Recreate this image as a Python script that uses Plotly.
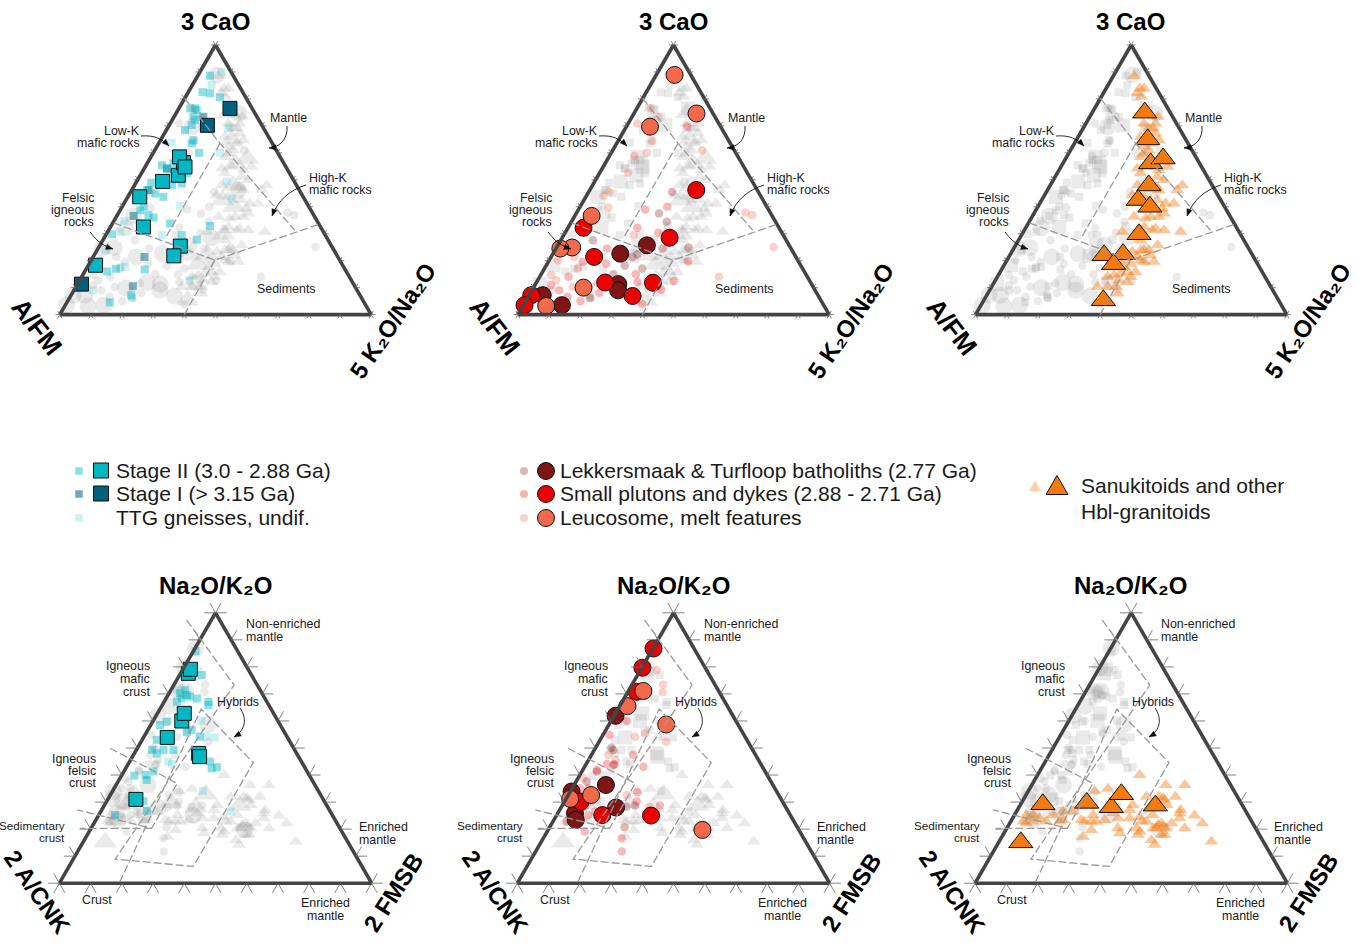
import plotly.graph_objects as go

W, H = 1359, 943

# ---------- CaO diagram (a = 3 CaO %, c = 5 K2O/Na2O %, b = remainder A/FM) ----------
A_SQ_II_BIG_a = [43.7,32.5,49.4,51.7,56.4,58.5,54.8,25.4,21.8,18.3]
A_SQ_II_BIG_c = [3.8,10.6,8.3,12.2,11.5,9.2,12.8,26.0,25.7,2.3]
A_SQ_I_BIG_a = [76.5,70.2,11.3]
A_SQ_I_BIG_c = [16.4,12.3,1.3]
A_SQ_II_a = [88.6,82.5,82.1,80.6,76.5,76.5,75.9,73.4,72.2,70.3,68.4,64.7,63.5,60.0,57.3,55.4,54.2,56.1,52.4,48.6,48.0,48.9,46.2,44.9,43.7,40.0,36.9,36.0,33.8,32.9,29.5,27.8,29.8,17.0,16.0,16.7,7.2,4.5,38.7]
A_SQ_II_c = [3.9,4.6,7.2,11.1,5.2,3.6,6.0,6.2,7.3,7.2,6.0,10.5,10.6,14.7,9.0,5.1,7.3,8.4,14.6,14.9,12.0,4.9,4.9,8.2,11.4,6.9,10.0,12.1,18.5,31.8,24.4,30.1,1.9,9.5,7.2,18.9,19.3,13.8,6.5]
A_SQ_I_a = [73.4,36.6,21.4,10.5,46.2,54.2]
A_SQ_I_c = [9.4,5.4,16.5,18.2,5.4,7.3]
A_SQ_U_a = [89.9,85.1,69.1,63.7,60.0,49.3,43.1,40.3,34.8,30.7,29.5,23.9,17.7,17.5,12.7,9.0,6.3]
A_SQ_U_c = [7.0,6.2,19.5,4.1,21.4,28.9,33.8,18.5,3.3,4.1,18.0,2.7,12.2,10.7,35.2,6.2,20.0]

A_CI_L_BIG_a = [7.2,3.5,22.6,25.7,11.3,9.0]
A_CI_L_BIG_c = [4.4,12.4,21.6,28.6,26.6,27.7]
A_CI_S_BIG_a = [7.2,3.5,32.2,21.4,11.9,6.9,11.8,28.5,46.2]
A_CI_S_BIG_c = [0.7,0.4,5.0,13.8,22.1,33.4,37.5,34.5,34.2]
A_CI_M_BIG_a = [88.9,74.6,69.7,36.6,24.9,24.5,3.2,10.0]
A_CI_M_BIG_c = [5.9,20.1,7.6,5.4,5.0,1.4,7.5,16.1]
A_CI_L_a = [45.5,37.5,34.4,27.6,22.4,18.1,17.1,24.9,24.5,6.2,15.0,21.4]
A_CI_L_c = [26.8,26.6,30.6,10.3,27.2,25.3,31.4,42.3,34.2,20.2,23.2,26.1]
A_CI_S_a = [69.9,39.0,32.2,40.0,30.4,24.5,18.9,19.6,14.0,10.9,9.0,6.6,5.0,8.0,15.0,12.1,3.8,9.3,12.5,19.8]
A_CI_S_c = [19.5,21.4,22.3,28.0,29.9,16.4,18.9,11.0,9.3,5.2,8.8,12.7,17.6,22.1,30.4,32.4,38.1,41.4,43.9,44.8]
A_CI_M_a = [76.5,73.4,70.9,64.4,58.8,60.0,52.6,61.0,45.5,44.1,39.7,37.9,36.9,25.1,14.0,29.5,21.4,20.2,17.1,14.6,12.7,10.3,11.5]
A_CI_M_c = [4.4,8.4,2.9,11.0,8.0,11.4,9.1,28.7,6.6,5.5,9.2,54.2,56.8,69.6,57.6,22.4,7.4,2.7,10.7,3.4,6.0,12.5,19.9]

A_TR_BIG_a = [74.9,65.0,56.1,57.9,47.9,42.5,40.0,29.8,22.0,22.4,18.7,5.3]
A_TR_BIG_c = [16.9,22.8,28.2,31.3,31.7,31.0,36.0,37.6,30.3,36.2,35.0,38.4]
A_TR_a = [88.5,83.9,83.9,82.1,80.8,73.4,70.9,69.1,69.1,70.9,62.3,63.5,64.7,54.2,58.5,59.8,54.8,53.6,54.8,49.9,48.0,51.1,46.2,48.0,44.3,46.2,41.2,41.2,42.5,37.5,36.3,36.3,32.5,31.9,31.3,30.7,30.7,23.9,23.9,25.7,21.4,19.6,19.6,18.9,17.7,15.8,14.0,15.2,12.1,14.0,10.3,10.3,7.8,27.6,
          74.6,67.2,66.0,61.0,52.4,47.4,43.7,39.4,36.3,35.6,31.3,31.3,23.9,23.3,22.0,20.2,20.2,15.8,14.6,12.7,10.3]
A_TR_c = [6.7,10.8,12.2,10.9,12.9,21.9,18.6,22.5,21.2,22.4,23.0,25.0,26.6,24.9,23.8,24.2,27.8,32.1,34.2,35.5,42.4,32.8,41.7,28.0,28.2,35.8,43.1,40.4,37.1,41.8,32.8,38.1,37.9,41.9,44.9,31.8,50.5,43.8,41.1,45.6,41.3,47.5,44.3,40.4,38.9,43.5,42.8,39.0,42.7,35.4,39.9,34.0,41.7,39.2,
          18.5,24.2,20.0,25.2,26.8,34.1,32.2,40.3,40.7,36.8,41.1,37.4,42.2,38.8,45.2,42.9,37.6,40.9,37.2,39.7,37.3]

# ---------- Na2O/K2O diagram (a = Na2O/K2O %, c = 2 FMSB %, b = remainder 2 A/CNK) ----------
B_SQ_II_BIG_a = [77.6,79.1,60.0,62.8,53.9,48.0,46.8,31.0]
B_SQ_II_BIG_c = [2.5,2.4,9.2,8.6,7.6,20.6,21.5,9.0]
B_SQ_II_a = [85.8,77.0,67.1,65.9,69.6,69.0,68.3,70.2,67.1,68.3,71.4,59.7,58.5,53.0,49.3,48.0,49.3,49.3,56.0,56.7,54.2,45.0,42.5,42.9,39.8,40.0,38.2,41.3,26.8,25.2,30.4]
B_SQ_II_c = [0.7,7.1,14.2,14.8,6.0,7.3,9.9,3.5,4.1,5.0,4.5,4.5,3.0,4.7,5.0,7.2,8.7,11.9,12.8,14.0,17.9,25.7,27.5,29.0,4.1,7.6,8.9,9.5,14.6,5.2,11.7]
B_SQ_U_a = [54.2,53.9,60.1,44.1,45.0,34.1,26.5,71.4]
B_SQ_U_c = [20.1,22.9,15.4,14.0,12.4,28.9,41.7,1.9]

B_CI_L_BIG_a = [61.9,36.3,33.9,28.0,25.9,23.4]
B_CI_L_BIG_c = [0.5,10.2,0.4,17.6,5.5,7.0]
B_CI_S_BIG_a = [86.8,79.7,70.8,30.2,25.2,25.0]
B_CI_S_BIG_c = [0.2,0.2,2.8,5.2,14.6,30.3]
B_CI_M_BIG_a = [71.1,65.5,58.7,32.6,31.2,19.7]
B_CI_M_BIG_c = [4.8,2.5,18.3,7.3,1.3,49.4]
B_CI_L_a = [50.1,41.3,37.6,28.3,28.3,28.7,20.7,49.3,43.7]
B_CI_L_c = [5.1,4.8,3.4,7.5,20.8,23.3,24.0,6.1,8.9]
B_CI_S_a = [60.1,54.8,47.4,44.0,44.1,43.1,41.9,33.6,30.2,35.1,25.2,19.1,16.6,11.7,28.7,22.8,35.1,26.5]
B_CI_S_c = [5.0,2.1,13.4,9.1,6.6,18.8,4.5,21.6,23.1,5.2,10.1,12.0,25.1,27.6,31.3,4.4,2.5,11.6]
B_CI_M_a = [78.8,73.5,70.6,54.2,52.3,47.4,45.6,38.8,32.6,28.3,55.4]
B_CI_M_c = [5.2,9.9,11.2,10.6,21.5,5.4,8.7,1.7,18.7,28.1,13.2]

B_TR_BIG_a = [29.2,29.7,28.1,32.9,28.7,15.1]
B_TR_BIG_c = [7.1,20.9,29.6,30.4,43.4,7.1]
B_TR_a = [40.0,34.9,34.1,36.3,36.3,32.0,31.4,32.0,28.9,25.2,25.2,24.0,22.8,22.8,22.8,22.8,26.5,26.5,23.4,22.8,25.2,19.7,23.4,24.0,20.3,18.5,20.3,17.9,22.8,25.2,21.6,20.9,20.3,20.3,17.9,27.1,24.0,20.3,25.0,22.2,15.4,16.0,14.2,17.2,27.1,28.9,25.9,
          25.2,23.4,22.2,22.8,22.8,24.0,24.6,22.2,20.3,17.9,22.2,32.0,30.8,25.9,22.8,19.1]
B_TR_c = [32.7,25.1,21.2,42.9,49.0,48.2,44.5,38.9,36.1,3.8,6.0,8.7,4.0,7.2,11.4,15.7,14.9,18.1,22.3,25.8,25.2,27.4,29.8,33.8,35.6,37.1,41.5,43.2,43.5,44.4,47.8,49.8,51.1,47.9,50.7,52.3,53.5,57.0,57.8,61.7,68.0,48.5,50.4,26.0,36.0,46.9,31.2,
          12.4,16.5,5.3,23.7,27.4,37.5,40.4,48.6,46.9,51.8,51.8,43.0,45.3,52.6,41.9,43.2]

# ---------- Field boundaries ----------
REG_A_a = [80.2,63.5,31.3,None,63.5,28.2,None,34.0,20.2,33.5,None,20.2,0]
REG_A_c = [0,19.7,59.8,None,19.7,19.7,None,0.3,39.7,66.5,None,39.7,40]
REG_B_a = [97.3,73.3,8.9,6.2,44.6,64.4,0.6,None,49.9,36.9,20.3,27.1,None,20.3,20.3]
REG_B_c = [-7.9,19.3,13.4,39.8,39.8,13.2,19.1,None,-8.7,19.3,19.4,-7.8,None,19.4,-3.5]

TICK_VALUES = list(range(0, 101, 10))

LEGEND_1 = ["Stage II (3.0 - 2.88 Ga)", "Stage I (> 3.15 Ga)", "TTG gneisses, undif."]
LEGEND_2 = ["Lekkersmaak & Turfloop batholiths (2.77 Ga)", "Small plutons and dykes (2.88 - 2.71 Ga)", "Leucosome, melt features"]
LEGEND_3 = ["Sanukitoids and other", "Hbl-granitoids"]

# ---------- Styles ----------
FONT = "Liberation Sans, Arial, sans-serif"
TEAL, DARK = "#00b7c3", "#02607f"
MAROON, RED, SALMON, ORANGE = "#7e1416", "#ee0000", "#f26a4b", "#f47a0e"
GREY = "rgba(125,125,125,0.16)"
SMALL = 12.4
def rgba(h, al):
    return f"rgba({int(h[1:3],16)},{int(h[3:5],16)},{int(h[5:7],16)},{al})"

PANEL_X = [0, 458, 915.7]
ROW_Y = [(45.0, 314.6), (612.8, 883.2)]
L0, R0 = 59.3, 371.7
OVER_K = [5.0, 9.5]   # extra percent around the triangle for the overlay subplot

def px(x): return x / W
def py(y): return 1 - y / H

fig = go.Figure()
annotations, shapes = [], []

def pts(a, c, name, sub, symbol, size, color, line=0):
    b = [100 - p - q for p, q in zip(a, c)]
    fig.add_trace(go.Scatterternary(
        a=a, b=b, c=c, mode="markers", subplot=sub, name=name, showlegend=False,
        cliponaxis=False, hoverinfo="skip",
        marker=dict(symbol=symbol, size=size, color=color,
                    line=dict(width=line, color="#111"))))

def lines(a, c, sub, k, color, width, dash="solid"):
    """Lines on the overlay ternary, whose axes run from -k to 100+2k of the real ones."""
    A = [None if p is None else p + k for p in a]
    C = [None if q is None else q + k for q in c]
    B = [None if p is None else 100 - p - q + k for p, q in zip(a, c)]
    fig.add_trace(go.Scatterternary(
        a=A, b=B, c=C, mode="lines", subplot=sub, showlegend=False,
        hoverinfo="skip", line=dict(color=color, width=width, dash=dash)))

def ticks(sub, k, d, color, w):
    A, C = [], []
    def seg(a0, c0, a1, c1):
        A.extend([a0, a1, None]); C.extend([c0, c1, None])
    for t in TICK_VALUES:
        seg(0, t, -d, t); seg(0, t, -d, t + d)
        seg(t, 0, t, -d); seg(t, 0, t + d, -d)
        seg(t, 100 - t, t, 100 - t + d); seg(t, 100 - t, t + d, 100 - t)
    lines(A, C, sub, k, color, w)

def txt(x, y, s, size=SMALL, anchor="center", angle=0, bold=False, color="#1a1a1a"):
    x = x - 2 if anchor == "left" else x + 2 if anchor == "right" else x
    annotations.append(dict(
        x=px(x), y=py(y), xref="paper", yref="paper", text=f"<b>{s}</b>" if bold else s,
        showarrow=False, xanchor=anchor, yanchor="middle", textangle=angle,
        font=dict(family=FONT, size=size, color=color)))

def multi(x, y, rows, anchor, pitch=12.4, size=SMALL):
    y0 = y - pitch * (len(rows) - 1) / 2
    for i, r in enumerate(rows):
        txt(x, y0 + i * pitch, r, size, anchor)

def arrow(dx, p0, c1, c2, p3):
    sx = lambda v: f"{px(v + dx):.5f}"
    sy = lambda v: f"{py(v):.5f}"
    shapes.append(dict(type="path", xref="paper", yref="paper", layer="above",
        path=f"M{sx(p0[0])},{sy(p0[1])} C{sx(c1[0])},{sy(c1[1])} {sx(c2[0])},{sy(c2[1])} {sx(p3[0])},{sy(p3[1])}",
        line=dict(color="#111", width=0.9), fillcolor="rgba(0,0,0,0)"))
    ux, uy = p3[0] - c2[0], p3[1] - c2[1]
    n = (ux ** 2 + uy ** 2) ** 0.5
    ux, uy = ux / n, uy / n
    bx, by = p3[0] - 7 * ux, p3[1] - 7 * uy
    lx, ly = bx - 2.8 * uy, by + 2.8 * ux
    rx, ry = bx + 2.8 * uy, by - 2.8 * ux
    shapes.append(dict(type="path", xref="paper", yref="paper", layer="above",
        path=f"M{sx(p3[0])},{sy(p3[1])} L{sx(lx)},{sy(ly)} L{sx(rx)},{sy(ry)} Z",
        line=dict(color="#111", width=0.3), fillcolor="#111"))

axis = dict(min=0, linecolor="#444444", linewidth=3.6, showgrid=False, ticks="",
            showticklabels=False, title=dict(text=""))
hidden = dict(min=0, showline=False, linewidth=0, showgrid=False, ticks="",
              showticklabels=False, title=dict(text=""))

def data_for(prefix):
    g = globals()
    def get(n):
        return g.get(f"{prefix}_{n}_a", []), g.get(f"{prefix}_{n}_c", [])
    return get

LAY = {}
SQ_SIZE, SQ_BIG = 8, 14
CI_SIZE, CI_BIG = 8.5, 17
TR_SIZE, TR_BIG = 12, 21

for r in range(2):
    for p in range(3):
        idx = r * 3 + p + 1
        sub = "ternary" + ("" if idx == 1 else str(idx))
        LAY[sub] = dict(
            sum=100, bgcolor="white",
            domain=dict(x=[px(L0 + PANEL_X[p]), px(R0 + PANEL_X[p])],
                        y=[py(ROW_Y[r][1]), py(ROW_Y[r][0])]),
            aaxis=axis, baxis=axis, caxis=axis)
        get = data_for("A" if r == 0 else "B")

        if p != 0:
            a, c = [], []
            for n in ("SQ_II", "SQ_I", "SQ_U"):
                x, y = get(n); a += x; c += y
            pts(a, c, "TTG (grey)", sub, "square", SQ_SIZE, GREY)
            a, c = [], []
            for n in ("SQ_II_BIG", "SQ_I_BIG"):
                x, y = get(n); a += x; c += y
            pts(a, c, "TTG big (grey)", sub, "square", SQ_BIG, GREY)
        if p != 1:
            a, c = [], []
            for n in ("CI_L", "CI_S", "CI_M"):
                x, y = get(n); a += x; c += y
            pts(a, c, "Granitoids (grey)", sub, "circle", CI_SIZE, GREY)
            a, c = [], []
            for n in ("CI_L_BIG", "CI_S_BIG", "CI_M_BIG"):
                x, y = get(n); a += x; c += y
            pts(a, c, "Granitoids big (grey)", sub, "circle", CI_BIG, GREY)
        if p != 2:
            pts(*get("TR"), "Sanukitoids (grey)", sub, "triangle-up", TR_SIZE, GREY)
            pts(*get("TR_BIG"), "Sanukitoids big (grey)", sub, "triangle-up", TR_BIG, GREY)

        if p == 0:
            pts(*get("SQ_U"), "TTG undif.", sub, "square", SQ_SIZE, rgba(TEAL, .2))
            pts(*get("SQ_I"), "Stage I", sub, "square", SQ_SIZE, rgba(DARK, .5))
            pts(*get("SQ_II"), "Stage II", sub, "square", SQ_SIZE, rgba(TEAL, .45))
            pts(*get("SQ_I_BIG"), "Stage I", sub, "square", SQ_BIG, DARK, 1)
            pts(*get("SQ_II_BIG"), "Stage II", sub, "square", SQ_BIG, TEAL, 1)
        elif p == 1:
            pts(*get("CI_M"), "Leucosome", sub, "circle", CI_SIZE, rgba(SALMON, .3))
            pts(*get("CI_L"), "Lekkersmaak", sub, "circle", CI_SIZE, rgba(MAROON, .3))
            pts(*get("CI_S"), "Small plutons", sub, "circle", CI_SIZE, rgba(RED, .28))
            pts(*get("CI_L_BIG"), "Lekkersmaak", sub, "circle", CI_BIG, MAROON, 1)
            pts(*get("CI_S_BIG"), "Small plutons", sub, "circle", CI_BIG, RED, 1)
            pts(*get("CI_M_BIG"), "Leucosome", sub, "circle", CI_BIG, SALMON, 1)
        else:
            pts(*get("TR"), "Sanukitoids", sub, "triangle-up", TR_SIZE, rgba(ORANGE, .42))
            pts(*get("TR_BIG"), "Sanukitoids", sub, "triangle-up", TR_BIG, ORANGE, 1)

        dx = PANEL_X[p] - (0.7 if p == 2 else 0)
        if r == 0:
            txt(215 + dx, 21, "3 CaO", 24, bold=True, color="#000")
            txt(37 + dx, 327, "A/FM", 26, angle=52, bold=True, color="#000")
            txt(392 + dx, 321, "5 K\u2082O/Na\u2082O", 24, angle=-56, bold=True, color="#000")
            multi(140 + dx, 137, ["Low-K", "mafic rocks"], "right")
            txt(270 + dx, 118, "Mantle", SMALL, "left")
            multi(309 + dx, 184, ["High-K", "mafic rocks"], "left")
            multi(94 + dx, 210, ["Felsic", "igneous", "rocks"], "right")
            txt(286.5 + dx, 289, "Sediments", SMALL)
            arrow(dx, (141, 136), (155, 135), (162, 139), (169, 146))
            arrow(dx, (287, 126), (288, 138), (281, 147), (269, 148))
            arrow(dx, (306, 185), (290, 190), (278, 200), (272, 216))
            arrow(dx, (90, 232), (95, 238), (100, 245), (113, 249))
        else:
            txt(215 + dx, 585, "Na\u2082O/K\u2082O", 24, bold=True, color="#000")
            txt(38 + dx, 892, "2 A/CNK", 24, angle=55, bold=True, color="#000")
            txt(393 + dx, 892, "2 FMSB", 24, angle=-57, bold=True, color="#000")
            multi(246 + dx, 630, ["Non-enriched", "mantle"], "left", 13)
            multi(150 + dx, 679, ["Igneous", "mafic", "crust"], "right", 12.6)
            txt(217 + dx, 702, "Hybrids", SMALL, "left")
            multi(96 + dx, 771, ["Igneous", "felsic", "crust"], "right", 12.4)
            multi(65 + dx, 831, ["Sedimentary", "crust"], "right", 12, size=11.7)
            multi(359 + dx, 833, ["Enriched", "mantle"], "left", 13)
            txt(82 + dx, 900, "Crust", SMALL, "left")
            multi(325 + dx, 909, ["Enriched", "mantle"], "center", 13)
            arrow(dx, (240, 708), (247, 718), (246, 730), (234, 737))

# Overlay ternaries: same scale, wider frame, so that ticks and field lines may leave the triangle
for r in range(2):
    for p in range(3):
        idx = 6 + r * 3 + p + 1
        sub = f"ternary{idx}"
        k = OVER_K[r]
        w, h = R0 - L0, ROW_Y[r][1] - ROW_Y[r][0]
        LAY[sub] = dict(
            sum=100 + 3 * k, bgcolor="rgba(0,0,0,0)",
            domain=dict(x=[px(L0 + PANEL_X[p] - w * 1.5 * k / 100), px(R0 + PANEL_X[p] + w * 1.5 * k / 100)],
                        y=[py(ROW_Y[r][1] + h * k / 100), py(ROW_Y[r][0] - h * 2 * k / 100)]),
            aaxis=hidden, baxis=hidden, caxis=hidden)
        ticks(sub, k, 1.4 if r == 0 else 3.6, "#666666", 0.8)
        lines(REG_A_a if r == 0 else REG_B_a, REG_A_c if r == 0 else REG_B_c, sub, k,
              "#999999", 1.3, "8px,3px")

# ---------- Legend ----------
ROWS = [471, 494, 518]
def rect(cx, cy, s, fill, line=None):
    shapes.append(dict(type="rect", xref="paper", yref="paper", layer="above",
        x0=px(cx - s / 2), x1=px(cx + s / 2), y0=py(cy + s / 2), y1=py(cy - s / 2), fillcolor=fill,
        line=dict(color=line or "rgba(0,0,0,0)", width=1 if line else 0)))
def circ(cx, cy, s, fill, line=None):
    shapes.append(dict(type="circle", xref="paper", yref="paper", layer="above",
        x0=px(cx - s / 2), x1=px(cx + s / 2), y0=py(cy + s / 2), y1=py(cy - s / 2), fillcolor=fill,
        line=dict(color=line or "rgba(0,0,0,0)", width=1 if line else 0)))
def tri(cx, cy, s, fill, line=None):
    h = s * 0.866
    shapes.append(dict(type="path", xref="paper", yref="paper", layer="above",
        path=f"M{px(cx - s/2):.5f},{py(cy + h/2):.5f} L{px(cx + s/2):.5f},{py(cy + h/2):.5f} L{px(cx):.5f},{py(cy - h/2):.5f} Z",
        fillcolor=fill, line=dict(color=line or "rgba(0,0,0,0)", width=1 if line else 0)))

for y, t, fs, big in zip(ROWS, LEGEND_1, [rgba(TEAL, .45), rgba(DARK, .55), rgba(TEAL, .2)], [TEAL, DARK, None]):
    rect(79, y, 7.5, fs)
    if big:
        rect(101, y - 0.5, 15, big, "#111")
    txt(116, y - 1, t, 21, "left")
for y, t, col, al in zip(ROWS, LEGEND_2, [MAROON, RED, SALMON], [.3, .3, .3]):
    circ(524, y, 8, rgba(col, al))
    circ(546, y, 17, col, "#111")
    txt(560, y - 1, t, 21, "left")
tri(1035, 486, 12, rgba(ORANGE, .35))
tri(1057, 485, 22, ORANGE, "#111")
txt(1081, 486, LEGEND_3[0], 21, "left")
txt(1081, 511, LEGEND_3[1], 21, "left")

fig.update_layout(width=W, height=H, margin=dict(l=0, r=0, t=0, b=0), autosize=False,
                  paper_bgcolor="white", plot_bgcolor="white", showlegend=False,
                  annotations=annotations, shapes=shapes, **LAY)

fig.write_html("out.html", config={"displayModeBar": False},
               post_script="document.body.style.margin='0';")
